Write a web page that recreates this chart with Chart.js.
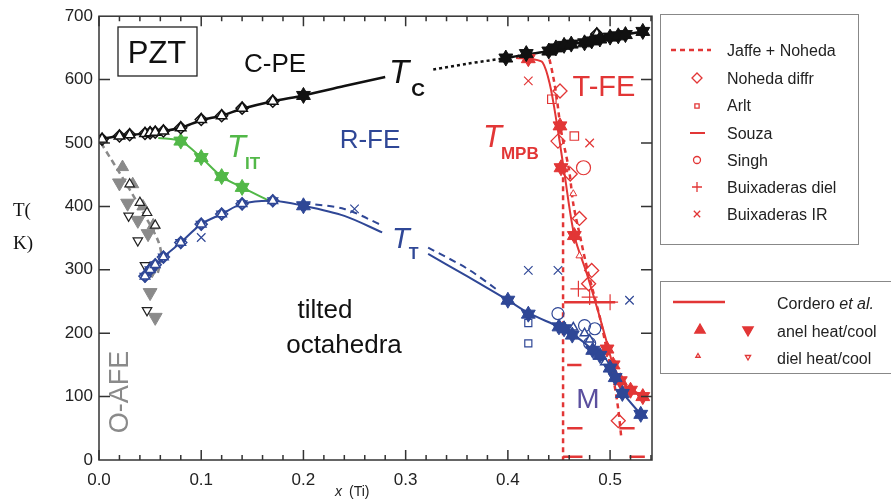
<!DOCTYPE html>
<html>
<head>
<meta charset="utf-8">
<title>PZT phase diagram</title>
<script src="https://cdn.jsdelivr.net/npm/chart.js@4.4.1/dist/chart.umd.min.js"></script>
<style>
    html, body { margin: 0; padding: 0; background: #fff; }
    #wrap { width: 891px; height: 501px; }
</style>
</head>
<body>
<div id="wrap"><canvas id="pzt" width="891" height="501"></canvas></div>
<script>
// tick labels
var xTicks = [0, 0.1, 0.2, 0.3, 0.4, 0.5];
var yTicks = [0, 100, 200, 300, 400, 500, 600, 700];

// Tc: cubic paraelectric boundary
var tcX = [0, 0.02, 0.04, 0.06, 0.08, 0.1, 0.12, 0.14, 0.17, 0.2, 0.24, 0.28];
var tcT = [506, 511, 514, 518, 524, 536, 543, 554, 566, 575, 590, 604];
var tcDotX = [0.327, 0.36, 0.398, 0.42];
var tcDotT = [616, 625, 634, 640];
var tcHiX = [0.398, 0.42, 0.44, 0.455, 0.47, 0.485, 0.5, 0.515, 0.532];
var tcHiT = [634, 640, 645, 654, 658, 663, 667, 671, 676];
var tcOpenX = [0.003, 0.02, 0.03, 0.045, 0.05, 0.055, 0.063, 0.08, 0.1, 0.12, 0.14, 0.17, 0.487];
var tcOpenT = [506, 511, 513, 515, 516, 517, 519, 524, 537, 543, 555, 566, 672];
var tcStarX = [0.2, 0.398, 0.418, 0.44, 0.447, 0.455, 0.462, 0.475, 0.482, 0.49, 0.5, 0.508, 0.515, 0.532];
var tcStarT = [575, 634, 641, 645, 650, 654, 656, 658, 661, 664, 667, 669, 671, 676];

// T_IT
var itX = [0.058, 0.08, 0.1, 0.12, 0.14, 0.165];
var itT = [508, 503, 477, 447, 430, 410];
var itStarX = [0.08, 0.1, 0.12, 0.14];
var itStarT = [503, 477, 447, 430];

// T_T: octahedral tilt
var ttX = [0.045, 0.063, 0.08, 0.1, 0.12, 0.14, 0.17, 0.2, 0.24, 0.277];
var ttT = [288, 320, 343, 372, 388, 404, 409, 401, 385, 359];
var ttLoX = [0.322, 0.36, 0.4, 0.42, 0.45, 0.465, 0.483, 0.503, 0.512, 0.53];
var ttLoT = [325, 290, 252, 232, 210, 197, 173, 137, 107, 72];
var ttDashX = [0.2, 0.24, 0.277];
var ttDashT = [405, 396, 370];
var ttDash2X = [0.322, 0.36, 0.39];
var ttDash2T = [335, 302, 268];
var ttOpenX = [0.045, 0.05, 0.055, 0.063, 0.08, 0.1, 0.12, 0.14, 0.17];
var ttOpenT = [290, 300, 308, 320, 343, 372, 388, 404, 409];
var ttDielX = [0.464, 0.475, 0.48, 0.487, 0.495];
var ttDielT = [209, 200, 190, 170, 154];
var ttStarX = [0.2, 0.4, 0.42, 0.45, 0.455, 0.463, 0.483, 0.49, 0.5, 0.505, 0.512, 0.53];
var ttStarT = [401, 252, 230, 210, 207, 197, 173, 165, 145, 130, 105, 72];
var ttCircX = [0.449, 0.475, 0.485, 0.48];
var ttCircT = [231, 212, 207, 184];
var ttSqX = [0.42, 0.42];
var ttSqT = [216, 184];
var ttIrX = [0.1, 0.25, 0.42, 0.449, 0.519];
var ttIrT = [351, 396, 299, 299, 252];

// T_MPB
var mpbX = [0.408, 0.425, 0.434, 0.441, 0.448, 0.455, 0.465, 0.477, 0.488, 0.496, 0.503, 0.512, 0.522, 0.534];
var mpbT = [634, 632, 627, 593, 530, 456, 354, 295, 236, 190, 150, 122, 110, 100];
var mpbStarX = [0.42, 0.451, 0.452, 0.465, 0.497, 0.503, 0.51, 0.52, 0.532];
var mpbStarT = [633, 527, 461, 354, 175, 150, 125, 110, 100];
var mpbDielX = [0.464, 0.47];
var mpbDielT = [420, 322];
var jnX = [0.437, 0.441, 0.447, 0.452, 0.46, 0.464, 0.471, 0.478, 0.49, 0.496, 0.503, 0.508, 0.511];
var jnT = [645, 630, 580, 520, 456, 404, 350, 299, 225, 180, 130, 80, 35];
var monoX = [0.454, 0.454];
var monoT = [460, 0];
var souzaX0 = [0.455, 0.458, 0.458, 0.454, 0.509, 0.519];
var souzaX1 = [0.505, 0.472, 0.473, 0.473, 0.524, 0.534];
var souzaT = [249, 150, 50, 5, 50, 5];
var ndX = [0.451, 0.449, 0.461, 0.47, 0.482, 0.479, 0.508];
var ndT = [582, 503, 451, 381, 299, 278, 62];
var arltX = [0.443, 0.465];
var arltT = [569, 511];
var singhX = [0.474];
var singhT = [461];
var bxDielX = [0.469, 0.48, 0.5];
var bxDielT = [270, 257, 249];
var bxIrX = [0.42, 0.48];
var bxIrT = [598, 500];

// O-AFE boundary
var afeX = [0.002, 0.025, 0.045, 0.058, 0.061, 0.057];
var afeT = [500, 440, 385, 345, 320, 292];
var afeDownX = [0.02, 0.028, 0.038, 0.048, 0.052, 0.05, 0.055];
var afeDownT = [437, 405, 378, 357, 300, 264, 225];
var afeUpX = [0.023, 0.033, 0.043, 0.053];
var afeUpT = [462, 435, 400, 370];
var afeOpenUpX = [0.03, 0.04, 0.047, 0.055];
var afeOpenUpT = [435, 406, 390, 370];
var afeOpenDnX = [0.029, 0.038, 0.045, 0.047];
var afeOpenDnT = [385, 346, 307, 236];

var RED = '#e23636';
var BLUE = '#2f4796';
var GREEN = '#52b848';
var GRAY = '#8a8a8a';
var FONT = '"Liberation Sans", Arial, sans-serif';

function pts(xs, ts) {
    var out = [];
    for (var i = 0; i < xs.length; i++) {
        out.push({x: xs[i], y: ts[i]});
    }
    return out;
}

function line(xs, ts, color, width, dash, tension) {
    return {
        data: pts(xs, ts),
        showLine: true,
        borderColor: color,
        borderWidth: width,
        borderDash: dash || [],
        tension: tension === undefined ? 0.3 : tension,
        pointRadius: 0,
        order: 10
    };
}

function marks(xs, ts, style, color, fill, radius, rotation, width) {
    return {
        data: pts(xs, ts),
        showLine: false,
        pointStyle: style,
        pointRadius: radius,
        pointRotation: rotation || 0,
        pointBorderColor: color,
        pointBackgroundColor: fill,
        pointBorderWidth: width || 1.5,
        order: 1
    };
}

// filled star = up triangle over down triangle
function stars(xs, ts, color, radius) {
    return [marks(xs, ts, 'triangle', color, color, radius, 0, 1),
            marks(xs, ts, 'triangle', color, color, radius, 180, 1)];
}

var datasets = [];
function add(d) { datasets = datasets.concat(d); }

// lines
add(line(tcX, tcT, '#111', 2.5));
add(line(tcDotX, tcDotT, '#111', 2.5, [3, 3]));
add(line(tcHiX, tcHiT, '#111', 2.5));
add(line(itX, itT, GREEN, 2));
add(line(ttX, ttT, BLUE, 2));
add(line(ttLoX, ttLoT, BLUE, 2));
add(line(ttDashX, ttDashT, BLUE, 2, [7, 5]));
add(line(ttDash2X, ttDash2T, BLUE, 2, [7, 5]));
add(line(mpbX, mpbT, RED, 2));
add(line(jnX, jnT, RED, 2.5, [5, 4]));
add(line(monoX, monoT, RED, 2.5, [5, 4], 0));
add(line(afeX, afeT, GRAY, 2.5, [6, 4]));
for (var s = 0; s < souzaT.length; s++) {
    add(line([souzaX0[s], souzaX1[s]], [souzaT[s], souzaT[s]], RED, 2.5, [], 0));
}

// markers
add(stars(tcStarX, tcStarT, '#111', 8));
add(marks(tcOpenX, tcOpenT, 'triangle', '#111', '#fff', 6));
add(marks(tcOpenX, tcOpenT, 'rectRot', '#111', 'rgba(255,255,255,0)', 6));
add(stars(itStarX, itStarT, GREEN, 8));
add(stars(ttStarX, ttStarT, BLUE, 8));
add(marks(ttOpenX, ttOpenT, 'triangle', BLUE, '#fff', 5.5));
add(marks(ttOpenX, ttOpenT, 'triangle', BLUE, 'rgba(255,255,255,0)', 5.5, 180));
add(marks(ttOpenX, ttOpenT, 'rectRot', BLUE, 'rgba(255,255,255,0)', 6));
add(marks(ttDielX, ttDielT, 'triangle', BLUE, '#fff', 5));
add(marks(ttCircX, ttCircT, 'circle', BLUE, 'rgba(255,255,255,0)', 6, 0, 1.2));
add(marks(ttSqX, ttSqT, 'rect', BLUE, 'rgba(255,255,255,0)', 5, 0, 1.2));
add(marks(ttIrX, ttIrT, 'crossRot', BLUE, BLUE, 6, 0, 1.2));
add(stars(mpbStarX, mpbStarT, RED, 8));
add(marks(mpbDielX, mpbDielT, 'triangle', RED, '#fff', 4, 0, 1));
add(marks(ndX, ndT, 'rectRot', RED, 'rgba(255,255,255,0)', 7, 0, 1.3));
add(marks(arltX, arltT, 'rect', RED, 'rgba(255,255,255,0)', 6, 0, 1.2));
add(marks(singhX, singhT, 'circle', RED, 'rgba(255,255,255,0)', 7, 0, 1.2));
add(marks(bxDielX, bxDielT, 'cross', RED, RED, 8, 0, 1.2));
add(marks(bxIrX, bxIrT, 'crossRot', RED, RED, 6, 0, 1.2));
add(marks(afeOpenUpX, afeOpenUpT, 'triangle', '#222', '#fff', 5.5, 0, 1.2));
add(marks(afeOpenDnX, afeOpenDnT, 'triangle', '#222', '#fff', 5.5, 180, 1.2));
add(marks(afeDownX, afeDownT, 'triangle', GRAY, GRAY, 8, 180, 1));
add(marks(afeUpX, afeUpT, 'triangle', GRAY, GRAY, 7, 0, 1));

function txt(ctx, s, x, y, font, color, align) {
    ctx.font = font;
    ctx.fillStyle = color;
    ctx.textAlign = align || 'left';
    ctx.textBaseline = 'alphabetic';
    ctx.fillText(s, x, y);
}

function subT(ctx, x, y, size, sub, subSize, color, dx) {
    txt(ctx, 'T', x, y, 'italic ' + size + 'px ' + FONT, color);
    var w = ctx.measureText('T').width;
    txt(ctx, sub, x + w - 1 + (dx || 0), y + subSize * 0.7, 'bold ' + subSize + 'px ' + FONT, color);
}

function legendPoint(ctx, style, color, fill, r, rot, x, y) {
    ctx.save();
    ctx.strokeStyle = color;
    ctx.fillStyle = fill;
    ctx.lineWidth = 1.3;
    Chart.helpers.drawPoint(ctx, {pointStyle: style, radius: r, rotation: rot || 0, borderWidth: 1.3}, x, y);
    ctx.restore();
}

function hline(ctx, x0, x1, y, color, width, dash) {
    ctx.save();
    ctx.strokeStyle = color;
    ctx.lineWidth = width;
    ctx.setLineDash(dash || []);
    ctx.beginPath();
    ctx.moveTo(x0, y);
    ctx.lineTo(x1, y);
    ctx.stroke();
    ctx.restore();
}

var decor = {
    id: 'decor',
    afterDraw: function(chart) {
        var ctx = chart.ctx;
        var a = chart.chartArea;
        var xs = chart.scales.x, ys = chart.scales.y;
        ctx.save();

        // frame and inward ticks
        ctx.strokeStyle = '#333';
        ctx.lineWidth = 1.5;
        ctx.strokeRect(a.left, a.top, a.right - a.left, a.bottom - a.top);
        ctx.beginPath();
        for (var i = 0; i <= 27; i++) {
            var px = xs.getPixelForValue(i * 0.02);
            if (px > a.right) break;
            var len = (i % 5 === 0) ? 10 : 5;
            ctx.moveTo(px, a.bottom); ctx.lineTo(px, a.bottom - len);
            ctx.moveTo(px, a.top); ctx.lineTo(px, a.top + len);
        }
        for (var j = 1; j < yTicks.length - 1; j++) {
            var py = ys.getPixelForValue(yTicks[j]);
            ctx.moveTo(a.left, py); ctx.lineTo(a.left + 11, py);
            ctx.moveTo(a.right, py); ctx.lineTo(a.right - 11, py);
        }
        ctx.stroke();

        // axis titles
        txt(ctx, 'T(', 13, 216, '19px "Liberation Serif", "Times New Roman", serif', '#111');
        txt(ctx, 'K)', 13, 249, '19px "Liberation Serif", "Times New Roman", serif', '#111');
        txt(ctx, 'x', 335, 496, 'italic 14px ' + FONT, '#222');
        txt(ctx, '(Ti)', 349, 496, '14px ' + FONT, '#222');

        // region labels
        ctx.strokeStyle = '#222';
        ctx.lineWidth = 1.3;
        ctx.strokeRect(118, 27, 79, 49);
        txt(ctx, 'PZT', 157, 63, '31px ' + FONT, '#111', 'center');
        txt(ctx, 'C-PE', 275, 72, '26px ' + FONT, '#111', 'center');
        subT(ctx, 389, 83, 33, 'C', 19, '#111', 3);
        txt(ctx, 'R-FE', 370, 148, '26px ' + FONT, BLUE, 'center');
        subT(ctx, 227, 157, 31, 'IT', 17, GREEN);
        txt(ctx, 'T-FE', 604, 96, '29px ' + FONT, RED, 'center');
        subT(ctx, 483, 147, 31, 'MPB', 17, RED);
        subT(ctx, 392, 248, 29, 'T', 16, BLUE);
        txt(ctx, 'tilted', 325, 318, '26px ' + FONT, '#111', 'center');
        txt(ctx, 'octahedra', 344, 353, '26px ' + FONT, '#111', 'center');
        txt(ctx, 'M', 588, 408, '28px ' + FONT, '#5b4f9e', 'center');
        ctx.save();
        ctx.translate(128, 392);
        ctx.rotate(-Math.PI / 2);
        txt(ctx, 'O-AFE', 0, 0, '27px ' + FONT, GRAY, 'center');
        ctx.restore();

        // literature legend
        ctx.strokeStyle = '#888';
        ctx.lineWidth = 1;
        ctx.strokeRect(660.5, 14.5, 198, 230);
        var lf = '16px ' + FONT;
        hline(ctx, 671, 711, 50, RED, 2.5, [5, 4]);
        txt(ctx, 'Jaffe + Noheda', 727, 56, lf, '#222');
        legendPoint(ctx, 'rectRot', RED, '#fff', 5, 0, 697, 78);
        txt(ctx, 'Noheda diffr', 727, 84, lf, '#222');
        legendPoint(ctx, 'rect', RED, '#fff', 3, 0, 697, 106);
        txt(ctx, 'Arlt', 727, 111, lf, '#222');
        hline(ctx, 690, 705, 133, RED, 2);
        txt(ctx, 'Souza', 727, 139, lf, '#222');
        legendPoint(ctx, 'circle', RED, '#fff', 3.5, 0, 697, 160);
        txt(ctx, 'Singh', 727, 166, lf, '#222');
        legendPoint(ctx, 'cross', RED, RED, 5, 0, 697, 187);
        txt(ctx, 'Buixaderas diel', 727, 193, lf, '#222');
        legendPoint(ctx, 'crossRot', RED, RED, 4.5, 0, 697, 214);
        txt(ctx, 'Buixaderas IR', 727, 220, lf, '#222');

        // own data legend
        ctx.strokeStyle = '#888';
        ctx.strokeRect(660.5, 281.5, 240, 92);
        hline(ctx, 673, 725, 302, RED, 2.5);
        txt(ctx, 'Cordero ', 777, 309, lf, '#222');
        var cw = ctx.measureText('Cordero ').width;
        txt(ctx, 'et al.', 777 + cw, 309, 'italic ' + lf, '#222');
        legendPoint(ctx, 'triangle', RED, RED, 6, 0, 700, 330);
        legendPoint(ctx, 'triangle', RED, RED, 6, 180, 748, 330);
        txt(ctx, 'anel heat/cool', 777, 337, lf, '#222');
        legendPoint(ctx, 'triangle', RED, '#fff', 2.5, 0, 698, 356);
        legendPoint(ctx, 'triangle', RED, '#fff', 3, 180, 748, 357);
        txt(ctx, 'diel heat/cool', 777, 364, lf, '#222');

        ctx.restore();
    }
};

var chart = new Chart(document.getElementById('pzt'), {
    type: 'scatter',
    data: { datasets: datasets },
    options: {
        responsive: false,
        animation: false,
        events: [],
        layout: { padding: { top: 15, right: 239, left: 0, bottom: 0 } },
        plugins: { legend: { display: false }, tooltip: { enabled: false } },
        scales: {
            x: {
                type: 'linear',
                min: 0,
                max: 0.541,
                grid: { display: false, drawTicks: false },
                border: { display: false },
                afterBuildTicks: function(scale) {
                    scale.ticks = xTicks.map(function(v) { return {value: v}; });
                },
                afterFit: function(scale) { scale.height = 41; },
                ticks: {
                    padding: 10,
                    color: '#222',
                    font: { family: FONT, size: 17 },
                    maxRotation: 0,
                    callback: function(v) { return v.toFixed(1); }
                }
            },
            y: {
                type: 'linear',
                min: 0,
                max: 700,
                grid: { display: false, drawTicks: false },
                border: { display: false },
                afterBuildTicks: function(scale) {
                    scale.ticks = yTicks.map(function(v) { return {value: v}; });
                },
                afterFit: function(scale) { scale.width = 99; },
                ticks: {
                    padding: 6,
                    color: '#222',
                    font: { family: FONT, size: 17 }
                }
            }
        }
    },
    plugins: [decor]
});
</script>
</body>
</html>
